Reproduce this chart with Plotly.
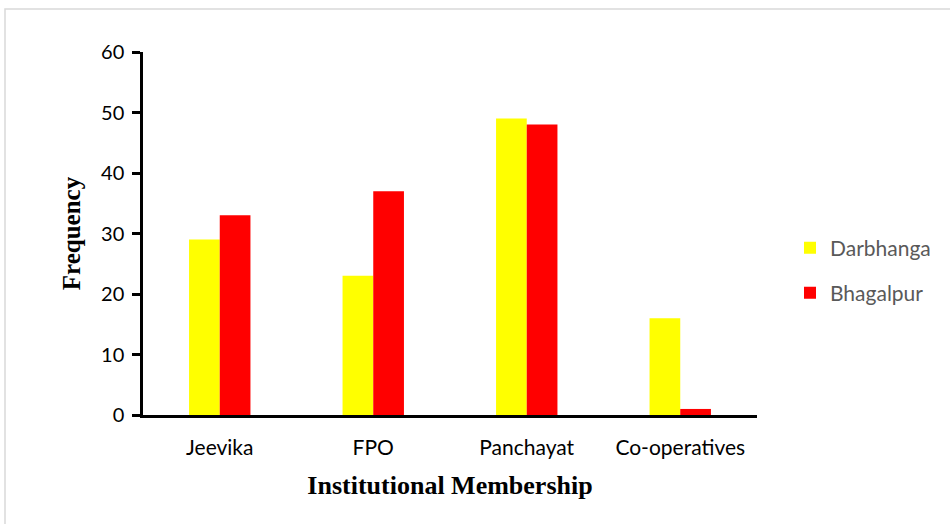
import plotly.graph_objects as go

categories = ["Jeevika", "FPO", "Panchayat", "Co-operatives"]
darbhanga = [29, 23, 49, 16]
bhagalpur = [33, 37, 48, 1]
y_ticks = [0, 10, 20, 30, 40, 50, 60]

fig = go.Figure()
fig.add_trace(go.Bar(x=categories, y=darbhanga, name="Darbhanga",
                     marker=dict(color="#FFFF00", line=dict(width=0)), legend="legend"))
fig.add_trace(go.Bar(x=categories, y=bhagalpur, name="Bhagalpur",
                     marker=dict(color="#FF0000", line=dict(width=0)), legend="legend2"))

L, R, T, B = 143, 193, 52, 109
W, H = 950, 524
pw, ph = W - L - R, H - T - B

def px(x):
    return (x - L) / pw

def py(y):
    return (H - B - y) / ph

legend_common = dict(font=dict(family="Lato, Open Sans, sans-serif", size=21, color="#595959"),
                     bgcolor="rgba(0,0,0,0)", xanchor="left", yanchor="middle",
                     itemwidth=30)

fig.update_layout(
    width=W, height=H,
    margin=dict(l=L, r=R, t=T, b=B, autoexpand=False),
    paper_bgcolor="white", plot_bgcolor="white",
    barmode="group", bargap=0.6, bargroupgap=0,
    showlegend=True,
    legend=dict(x=px(790), y=py(248), **legend_common),
    legend2=dict(x=px(790), y=py(293), **legend_common),
    xaxis=dict(
        automargin=False,
        showline=True, linecolor="black", linewidth=2.5,
        ticks="", showgrid=False, ticklabelstandoff=12,
        tickfont=dict(family="Lato, Open Sans, sans-serif", size=21, color="black"),
        title=dict(text="<b>Institutional Membership</b>",
                   font=dict(family="Liberation Serif, Times New Roman, serif", size=26, color="black"),
                   standoff=18),
    ),
    yaxis=dict(
        automargin=False,
        range=[0, 60], tickvals=y_ticks, showline=True, linecolor="black", linewidth=2.5,
        ticks="outside", ticklen=8, tickwidth=2.5, tickcolor="black", showgrid=False,
        zeroline=False, ticklabelstandoff=4,
        tickfont=dict(family="Lato, Open Sans, sans-serif", size=20, color="black"),
        title=dict(text="<b>Frequency</b>",
                   font=dict(family="Liberation Serif, Times New Roman, serif", size=25, color="black"),
                   standoff=14),
    ),
    shapes=[dict(type="rect", xref="paper", yref="paper",
                 x0=px(5), x1=px(960), y0=py(534), y1=py(9),
                 line=dict(color="#D9D9D9", width=1.5), fillcolor="rgba(0,0,0,0)", layer="below")],
)

fig.write_html("out.html")
